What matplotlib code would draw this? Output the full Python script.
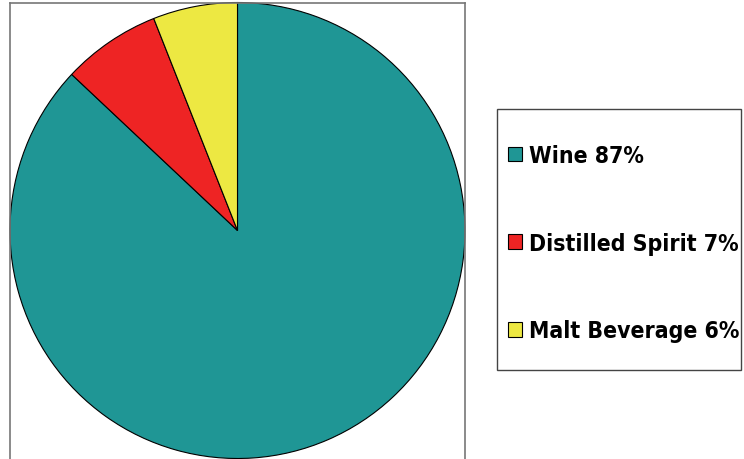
import matplotlib
matplotlib.use("Agg")
import matplotlib.pyplot as plt  # noqa: E402
from matplotlib.patches import Rectangle  # noqa: E402

categories = ["Wine", "Distilled Spirit", "Malt Beverage"]
shares = [87, 7, 6]
colors = ["#1f9695", "#ee2424", "#ede842"]
labels = [f"{c} {v}%" for c, v in zip(categories, shares)]

W, H = 744, 460
fig = plt.figure(figsize=(W / 100, H / 100), dpi=100, facecolor="white")

# pie area with its grey frame
ax = fig.add_axes([10 / W, 0.5 / H, 455 / W, 456 / H])
wedges, _ = ax.pie(shares, colors=colors, startangle=90, counterclock=False,
                   wedgeprops=dict(edgecolor="black", linewidth=0.8), radius=1.0)
ax.set_xlim(-1.0, 1.0)
ax.set_ylim(-1.0, 1.0)
ax.set_aspect("auto")
ax.set_frame_on(True)
ax.set_xticks([])
ax.set_yticks([])
for s in ax.spines.values():
    s.set_edgecolor("#777777")
    s.set_linewidth(1.2)
ax.spines["bottom"].set_visible(False)

# legend box
fig.patches.append(Rectangle((497 / W, 1 - 371 / H), 244 / W, 261 / H,
                             transform=fig.transFigure, facecolor="white",
                             edgecolor="#444444", linewidth=1.0))
leg = fig.legend(wedges, labels, loc="upper left",
                 bbox_to_anchor=(508 / W, 1 - 145 / H), frameon=False,
                 prop=dict(family="DejaVu Sans", weight="bold", size=16.5, stretch="condensed"),
                 handlelength=0.62, handleheight=0.62, handletextpad=0.3,
                 labelspacing=2.82, borderpad=0, borderaxespad=0)
for h in leg.legend_handles:
    h.set_linewidth(0.8)

fig.savefig("out.png", dpi=100, facecolor="white")
